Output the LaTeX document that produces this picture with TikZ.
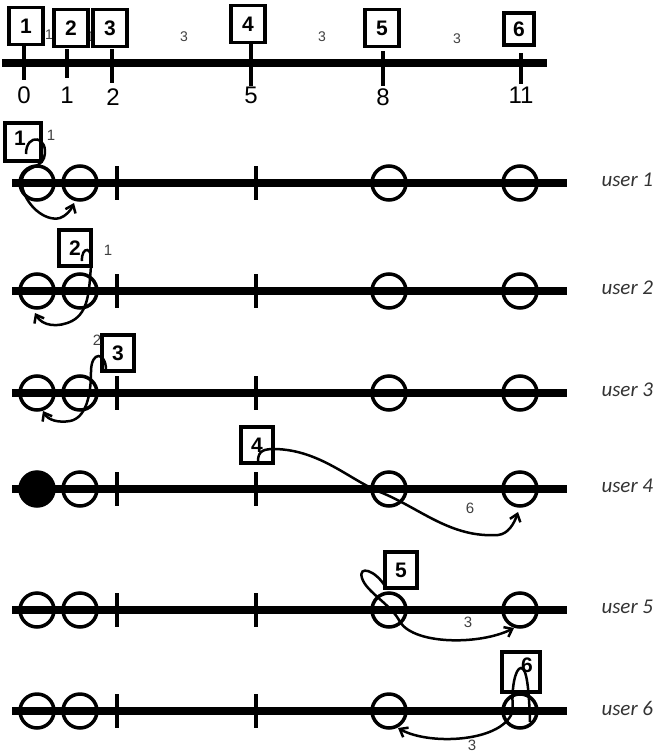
\documentclass[tikz,border=0pt]{standalone}
\usepackage{fontspec}
\setmainfont{Liberation Sans}
\newfontfamily\calfont{Carlito}
\usetikzlibrary{arrows.meta}
\begin{document}
\begin{tikzpicture}[x=1pt,y=-1pt,
  axis/.style={line width=8.5pt},
  tickmark/.style={line width=3.5pt},
  slot/.style={circle,draw,line width=3.5pt,minimum size=34pt,inner sep=0pt},
  pick/.style={draw,line width=3.5pt,minimum width=32pt,minimum height=36pt,inner sep=0pt,
    fill=white,font=\fontsize{21}{21}\selectfont\bfseries},
  gap/.style={font=\fontsize{14}{14}\selectfont,text=black!75},
  timenum/.style={font=\fontsize{24}{24}\selectfont},
  userlbl/.style={font=\calfont\itshape\fontsize{21}{21}\selectfont,text=black!80,anchor=west},
  jump/.style={line width=2.5pt,-{Straight Barb[length=7pt,width=11pt]}},
  lbl/.style={font=\fontsize{15}{15}\selectfont,text=black!75}
]
\useasboundingbox (0,0) rectangle (662,756);

% ---- time axis with arrival times ----
\draw[axis] (2,63) -- (547,63);
\foreach \x/\ya/\yb in {24/45/80, 67/49/78, 112/49/83, 251/44/86, 383/51/86, 521/53/84}
  \draw[tickmark] (\x,\ya) -- (\x,\yb);
\node[timenum] (n0) at (24,95) {0};
\node[timenum] (n1) at (67,95) {1};
\node[timenum] (n2) at (113,97) {2};
\node[timenum] (n5) at (251,95) {5};
\node[timenum] (n8) at (383,97) {8};
\node[timenum] (n11) at (521,95) {11};
\node[gap] (g1) at (49,35) {1};
\node[gap] (g2) at (91,37) {1};
\node[gap] (g3) at (184,37) {3};
\node[gap] (g4) at (322,37) {3};
\node[gap] (g5) at (457,39) {3};
\node[pick,minimum width=34pt,minimum height=37pt] (t1) at (26,26) {1};
\node[pick,minimum width=34pt,minimum height=37pt] (t2) at (71,28) {2};
\node[pick,minimum width=34pt,minimum height=37pt] (t3) at (110,28) {3};
\node[pick,minimum width=34pt,minimum height=37pt] (t4) at (248,24) {4};
\node[pick,minimum width=34pt,minimum height=37pt] (t5) at (382,28) {5};
\node[pick,line width=4.5pt,minimum width=30pt,minimum height=32pt] (t6) at (519,29) {6};

% ---- one row per user ----
\foreach \r/\y in {1/183,2/291,3/393,4/489,5/610,6/711}{
  \draw[axis] (12,\y) -- (567,\y);
  \draw[tickmark] (117,\y-17) -- (117,\y+17);
  \draw[tickmark] (256,\y-17) -- (256,\y+17);
  \node[slot] (c\r-b) at (80,\y) {};
  \node[slot] (c\r-c) at (389,\y) {};
  \node[slot] (c\r-d) at (520,\y) {};
  \node[userlbl] (u\r) at (598,\y-3) {user \r};
}
\foreach \r/\y in {1/183,2/291,3/393,5/610,6/711}
  \node[slot] (c\r-a) at (37,\y) {};
\node[slot,fill=black] (c4-a) at (37,489) {};

% user 1
\node[pick,minimum width=36pt,minimum height=38pt] (p1) at (23,142) {};
\node[font=\fontsize{21}{21}\selectfont\bfseries] (p1t) at (20,138) {1};
\node[lbl] (l1) at (51,135) {1};
\coordinate (s1) at (26,154);
\coordinate (e1) at (74,203);
\draw[jump] (s1) .. controls (26,132) and (50,136) .. (44,158)
  .. controls (40,170) and (20,165) .. (22,185)
  .. controls (25,205) and (45,222) .. (60,218)
  .. controls (66,216) and (71,210) .. (e1);

% user 2
\node[pick] (p2) at (75,248) {2};
\node[lbl] (l2) at (108,250) {1};
\coordinate (s2) at (82,261);
\coordinate (e2) at (35,313);
\draw[jump] (s2) .. controls (81,246) and (94,245) .. (91,266)
  .. controls (89,290) and (89,312) .. (72,321)
  .. controls (58,328) and (42,326) .. (e2);

% user 3
\node[pick] (p3) at (118,353) {3};
\node[lbl] (l3) at (97,340) {2};
\coordinate (s3) at (106,370);
\coordinate (e3) at (43,411);
\draw[jump] (s3) .. controls (106,352) and (91,350) .. (91,372)
  .. controls (91,395) and (86,418) .. (70,421)
  .. controls (58,423) and (48,420) .. (e3);

% user 4
\node[pick] (p4) at (257,445) {4};
\node[lbl] (l4) at (470,508) {6};
\coordinate (s4) at (258,461);
\coordinate (e4) at (518,512);
\draw[jump] (s4) .. controls (258,450) and (265,449) .. (275,449)
  .. controls (320,450) and (350,480) .. (380,492)
  .. controls (420,508) and (450,538) .. (498,535)
  .. controls (508,534) and (514,524) .. (e4);

% user 5
\node[pick] (p5) at (401,570) {5};
\node[lbl] (l5) at (468,622) {3};
\coordinate (s5) at (385,586);
\coordinate (e5) at (514,628);
\draw[jump] (s5) .. controls (375,570) and (358,565) .. (362,578)
  .. controls (366,592) and (392,605) .. (400,622)
  .. controls (415,645) and (480,645) .. (e5);

% user 6
\node[pick,minimum width=38pt,minimum height=40pt] (p6) at (521,672) {};
\node[font=\fontsize{21}{21}\selectfont\bfseries] (p6t) at (527,665) {6};
\node[lbl] (l6) at (472,745) {3};
\coordinate (s6) at (530,722);
\coordinate (e6) at (398,728);
\draw[jump] (s6) .. controls (529,690) and (527,668) .. (521,668)
  .. controls (515,668) and (511,690) .. (513,710)
  .. controls (505,742) and (430,746) .. (e6);
\end{tikzpicture}
\end{document}
